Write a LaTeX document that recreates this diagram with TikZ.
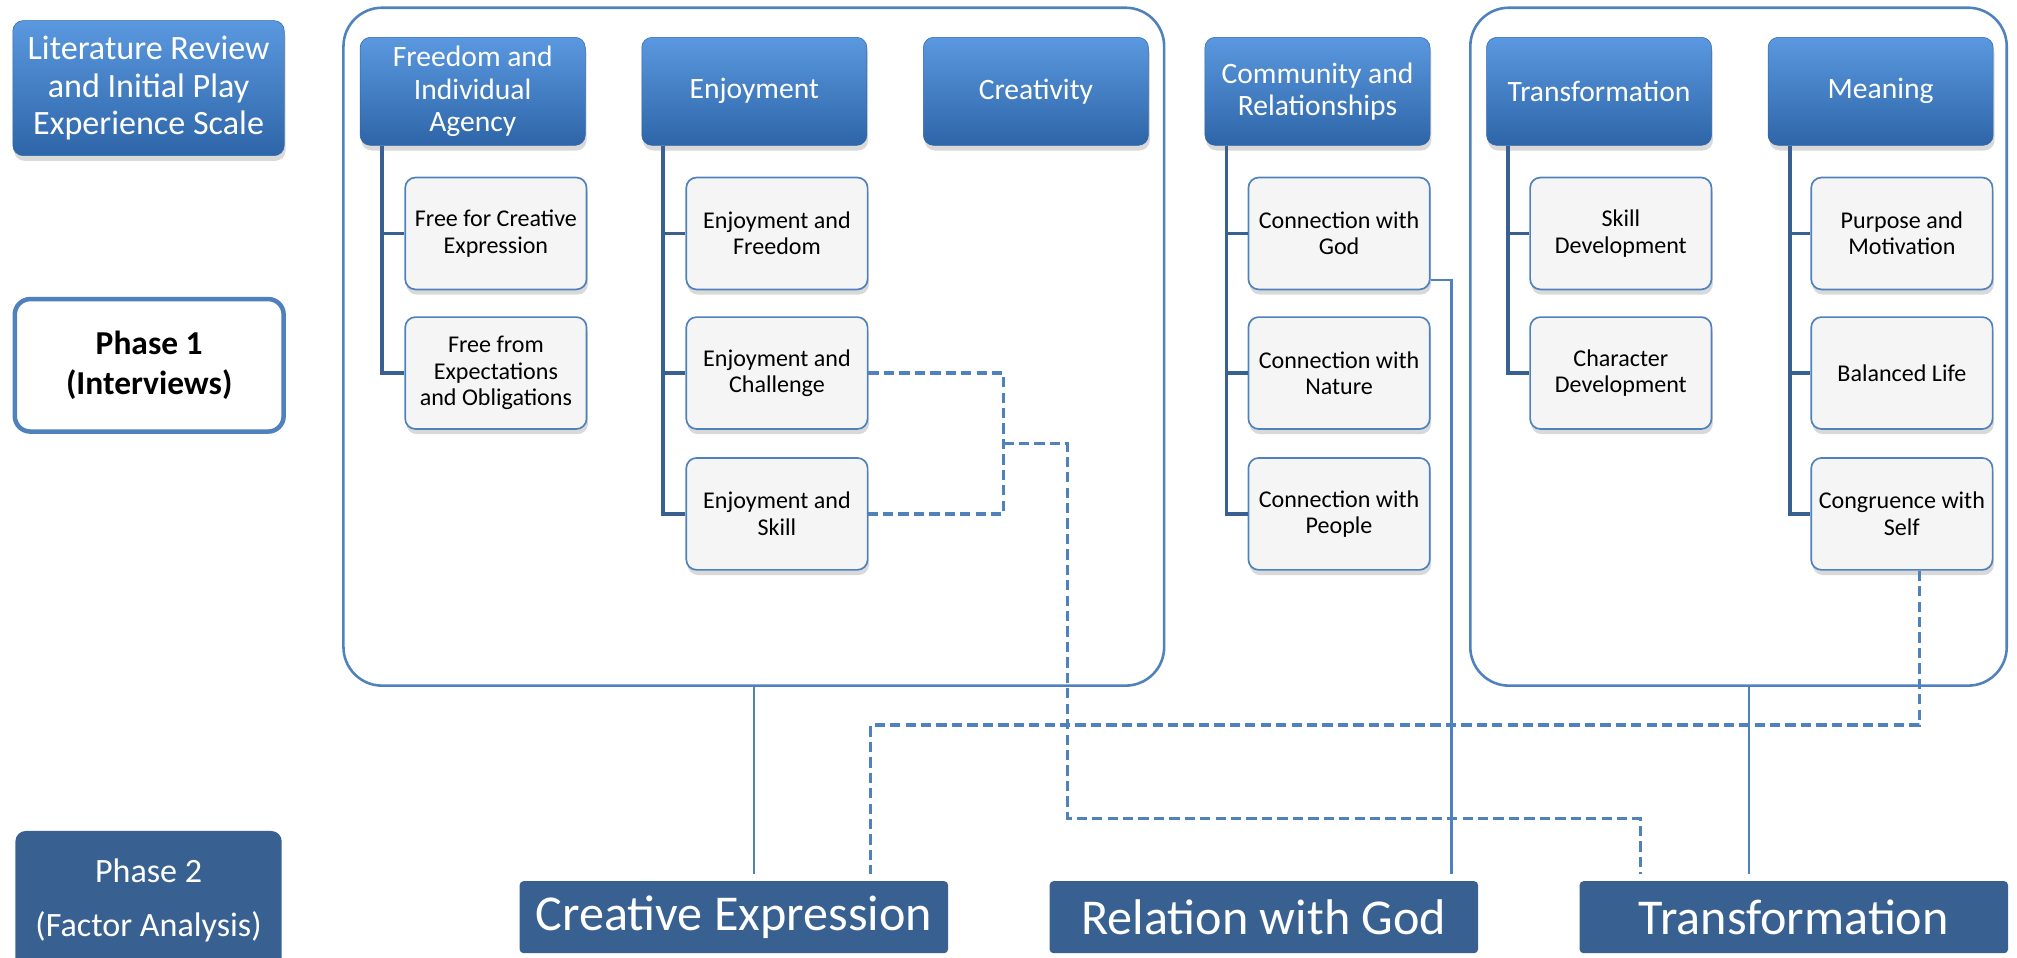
\documentclass[tikz,border=0pt]{standalone}
\usepackage{fontspec}
\setmainfont{Carlito}
\usetikzlibrary{positioning,shadows}

\definecolor{accent}{HTML}{4F81BD}
\definecolor{darkacc}{HTML}{386192}
\definecolor{topblue}{HTML}{5A98DF}
\definecolor{botblue}{HTML}{2E65A8}
\definecolor{subfill}{HTML}{F5F5F5}

\tikzset{
  softshadow/.style={drop shadow={shadow xshift=1pt,shadow yshift=-4pt,opacity=.3}},
  head/.style={rounded corners=8pt,top color=topblue,bottom color=botblue,draw=botblue,
    text=white,minimum width=175pt,minimum height=84pt,align=center,inner sep=2pt,
    font=\fontsize{23}{25}\selectfont,softshadow},
  sub/.style={rounded corners=8pt,fill=subfill,draw=accent,line width=1.3pt,
    minimum width=141pt,minimum height=87pt,align=center,inner sep=2pt,
    font=\fontsize{18.7}{20.5}\selectfont,softshadow},
  factor/.style={fill=darkacc,text=white,rounded corners=3pt,minimum width=333pt,
    minimum height=56pt,inner sep=2pt,font=\fontsize{39}{42}\selectfont},
  group/.style={draw=accent,line width=2pt,rounded corners=30pt},
  tree/.style={draw=darkacc,line width=3pt},
  link/.style={draw=accent,line width=2pt},
  dlink/.style={link,line width=2.5pt,dash pattern=on 8pt off 4pt},
}

\begin{document}
\begin{tikzpicture}[x=1pt,y=-1pt]
  \useasboundingbox (0,0) rectangle (1568,744);

  % groups
  \node[group,minimum width=638pt,minimum height=527pt] (g1) at (586,269.5) {};
  \node[group,minimum width=417pt,minimum height=527pt] (g2) at (1351.5,269.5) {};

  % phases
  \node[head,minimum width=211pt,minimum height=105pt,font=\fontsize{26.5}{29}\selectfont] (lit) at (115.5,68.5)
    {Literature Review\\and Initial Play\\Experience Scale};
  \node[draw=accent,line width=3.5pt,rounded corners=12pt,fill=white,minimum width=209pt,minimum height=103pt,
    align=center,font=\fontsize{26}{31}\selectfont\bfseries] (ph1) at (116,284) {Phase 1\\(Interviews)};
  \node[fill=darkacc,text=white,rounded corners=8pt,minimum width=207pt,minimum height=108pt,
    align=center,font=\fontsize{26.5}{42}\selectfont] (ph2) at (115.5,700) {Phase 2\\(Factor Analysis)};

  % themes
  \node[head] (fr) at (367.5,71) {Freedom and\\Individual\\Agency};
  \node[head,right=43.5pt of fr] (en) {Enjoyment};
  \node[head,right=43.5pt of en] (cr) {Creativity};
  \node[head,right=43.5pt of cr] (co) {Community and\\Relationships};
  \node[head,right=43.5pt of co] (tr) {Transformation};
  \node[head,right=43.5pt of tr] (me) {Meaning};

  % subthemes
  \node[sub] (fr1) at (385.5,181.5) {Free for Creative\\Expression};
  \node[sub] (fr2) at (385.5,290) {Free from\\Expectations\\and Obligations};
  \node[sub] (en1) at (604,181.5) {Enjoyment and\\Freedom};
  \node[sub] (en2) at (604,290) {Enjoyment and\\Challenge};
  \node[sub] (en3) at (604,399.5) {Enjoyment and\\Skill};
  \node[sub] (co1) at (1041,181.5) {Connection with\\God};
  \node[sub] (co2) at (1041,290) {Connection with\\Nature};
  \node[sub] (co3) at (1041,399.5) {Connection with\\People};
  \node[sub] (tr1) at (1260,181.5) {Skill\\Development};
  \node[sub] (tr2) at (1260,290) {Character\\Development};
  \node[sub] (me1) at (1478.5,181.5) {Purpose and\\Motivation};
  \node[sub] (me2) at (1478.5,290) {Balanced Life};
  \node[sub] (me3) at (1478.5,399.5) {Congruence with\\Self};

  % factors
  \node[factor] (ce) at (570.5,713) {Creative Expression};
  \node[factor] (rg) at (982.5,713) {Relation with God};
  \node[factor] (tf) at (1394.5,713) {Transformation};

  % tree lines
  \foreach \h/\s in {fr/fr1,fr/fr2,en/en1,en/en2,en/en3,co/co1,co/co2,co/co3,tr/tr1,tr/tr2,me/me1,me/me2,me/me3}
    \draw[tree] ([xshift=17pt]\h.south west) |- (\s.west);

  % solid links
  \draw[link,shorten >=5pt] (g1.south) -- (g1.south |- ce.north);
  \draw[link,shorten >=5pt] ([yshift=8pt]co1.south east) -| ([xshift=-21pt]rg.north east);
  \draw[link,shorten >=5pt] ([xshift=8pt]g2.south) -- ([xshift=8pt]g2.south |- tf.north);

  % dashed links
  \coordinate (ej) at (780,345);
  \draw[dlink] (en2.east) -| (ej) |- (en3.east);
  \draw[dlink,shorten >=5pt] (ej) -| (830,636) -| ([xshift=-119.5pt]tf.north);
  \draw[dlink,shorten >=5pt] ([xshift=13.5pt]me3.south) -- ++(0,120) -| ([xshift=106.5pt]ce.north);
\end{tikzpicture}
\end{document}
